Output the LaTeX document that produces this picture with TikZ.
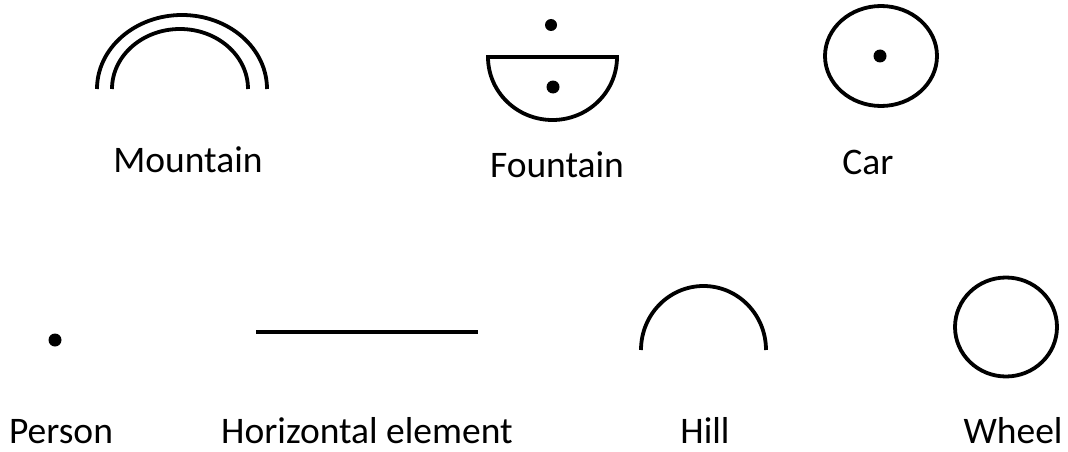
\documentclass[tikz,border=0pt]{standalone}
\usepackage{fontspec}
\setmainfont{Carlito}
\usepackage{tikz}
\tikzset{
  symline/.style={line width=3.8pt, black},
  symdot/.style={fill=black},
  symlabel/.style={anchor=base, font=\fontsize{37.5}{45}\selectfont, inner sep=0pt}
}

\begin{document}
\begin{tikzpicture}[x=1pt, y=-1pt]
  \useasboundingbox (0,0) rectangle (1068,452);

  % mountain
  \draw[symline] (97,89) arc[start angle=180, end angle=360, x radius=85, y radius=74];
  \draw[symline] (112,89) arc[start angle=180, end angle=360, x radius=68, y radius=60];
  \node[symlabel] (mountain) at (188,172) {Mountain};

  % fountain
  \fill[symdot] (551,25) circle[radius=6];
  \draw[symline] (488,57) -- (617,57) arc[start angle=0, end angle=180, x radius=64.5, y radius=63] -- cycle;
  \fill[symdot] (553,87) circle[radius=6.5];
  \node[symlabel] (fountain) at (557,177) {Fountain};

  % car
  \draw[symline] (881,56) ellipse[x radius=56, y radius=50];
  \fill[symdot] (880,56) circle[radius=6.5];
  \node[symlabel] (car) at (868,174) {Car};

  % person
  \fill[symdot] (55,340) circle[radius=6.5];
  \node[symlabel] (person) at (61,443) {Person};

  % horizontal element
  \draw[symline] (256,332) -- (478,332);
  \node[symlabel] (horizontal) at (367,443) {Horizontal element};

  % hill
  \draw[symline] (641,350) arc[start angle=180, end angle=360, x radius=62.5, y radius=64];
  \node[symlabel] (hill) at (705,443) {Hill};

  % wheel
  \draw[symline] (1006,327) ellipse[x radius=51, y radius=49.5];
  \node[symlabel] (wheel) at (1013,443) {Wheel};
\end{tikzpicture}
\end{document}
